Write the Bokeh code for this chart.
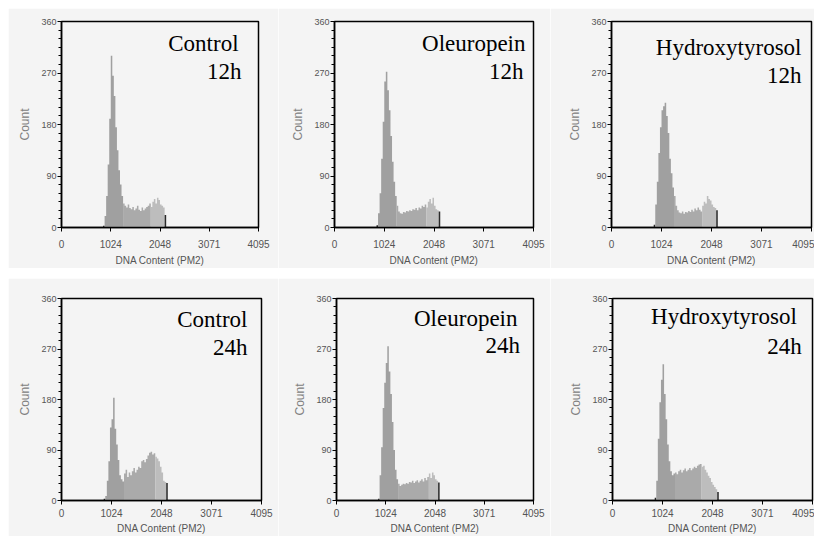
from bokeh.plotting import figure
from bokeh.models import Range1d, FixedTicker, Label, Spacer
from bokeh.layouts import column, row
from bokeh.embed import file_html
from bokeh.resources import INLINE

# ---------------- data ----------------
treatments = ["Control", "Oleuropein", "Hydroxytyrosol"]
times = ["12h", "24h"]
x_ticks = [0, 1024, 2048, 3071, 4095]
y_ticks = [0, 90, 180, 270, 360]
channel_start = 864
channel_width = 32

counts_control_12h = [3, 20, 55, 110, 190, 300, 265, 230, 175, 135, 100, 75, 55, 42, 38,
                      35, 40, 34, 32, 36, 30, 33, 38, 31, 29, 35, 30, 33, 36, 38,
                      42, 36, 45, 50, 42, 52, 48, 40, 38, 35, 22, 0]
counts_oleuropein_12h = [4, 25, 60, 120, 185, 255, 272, 240, 205, 160, 115, 80, 55, 38, 28,
                         25, 24, 27, 26, 29, 28, 30, 29, 32, 31, 34, 30, 35, 33, 38,
                         36, 40, 35, 45, 50, 42, 52, 38, 32, 30, 28, 0]
counts_hydroxytyrosol_12h = [5, 40, 80, 130, 175, 205, 212, 218, 195, 165, 120, 95, 70, 55, 38,
                             30, 26, 25, 28, 24, 27, 26, 29, 27, 31, 28, 33, 30, 35, 31,
                             28, 38, 45, 42, 55, 50, 47, 40, 36, 34, 30, 0]
counts_control_24h = [3, 8, 35, 70, 130, 145, 183, 128, 100, 72, 45, 38, 34, 48, 55,
                      42, 50, 45, 52, 58, 50, 55, 60, 58, 70, 72, 68, 74, 80, 85,
                      87, 82, 84, 78, 75, 70, 60, 50, 35, 33, 31, 0]
counts_oleuropein_24h = [3, 45, 95, 165, 210, 245, 275, 230, 190, 140, 90, 55, 38, 30, 26,
                         28, 30, 29, 31, 30, 33, 32, 35, 31, 34, 36, 32, 35, 38, 34,
                         40, 36, 42, 48, 40, 50, 45, 38, 35, 32, 0, 0]
counts_hydroxytyrosol_24h = [5, 35, 110, 175, 215, 243, 190, 145, 100, 70, 52, 45, 48, 50, 47,
                             52, 55, 50, 54, 57, 52, 55, 58, 54, 57, 60, 58, 62, 64, 65,
                             60, 62, 55, 50, 44, 40, 33, 28, 24, 20, 15, 0]

all_counts = [
    [counts_control_12h, counts_oleuropein_12h, counts_hydroxytyrosol_12h],
    [counts_control_24h, counts_oleuropein_24h, counts_hydroxytyrosol_24h],
]

# ---------------- layout / style ----------------
BG = "#f4f4f4"
G1_COLOR = "#a0a0a0"
S_COLOR = "#aaaaaa"
G2_COLOR = "#bdbdbd"
EDGE_COLOR = "#2a2a2a"
g1_end = 1280
g2_start = [[1856, 1888, 1856], [1920, 1920, 1824]]

col_widths = [[270, 272, 264], [270, 272, 264]]
border_left = [[53, 56, 61], [53, 58, 62]]
frame_w = [[197, 199, 200], [200, 197, 200]]
row_border_top = [13, 20]
row_frame_h = [206, 208]
row_border_bottom = [41, 30]
row_tick_standoff = [8, 4]
row_label_standoff = [4, 3]

# label positions (data units): (name x, name y, time x, time y)
label_pos = [
    [(3680, 300, 3740, 250), (3930, 299, 3890, 250), (3890, 293, 3890, 243)],
    [(3808, 300, 3808, 251), (3762, 302, 3812, 254), (3773, 306, 3876, 252)],
]

minor_y = [v for v in range(0, 361, 15) if v % 90 != 0]


def phase_color(i, lo, first, last, r, c):
    if i == first or i == last:
        return EDGE_COLOR
    if lo < g1_end:
        return G1_COLOR
    if lo < g2_start[r][c]:
        return S_COLOR
    return G2_COLOR


def make_panel(r, c):
    counts = all_counts[r][c]
    bl = border_left[r][c]
    fw = frame_w[r][c]
    w = col_widths[r][c]
    br = w - bl - fw
    h = row_border_top[r] + row_frame_h[r] + row_border_bottom[r]
    p = figure(width=w, height=h, output_backend="svg", toolbar_location=None,
               x_range=Range1d(0, 4095), y_range=Range1d(0, 360),
               min_border_left=bl, min_border_right=br,
               min_border_top=row_border_top[r], min_border_bottom=row_border_bottom[r])
    p.background_fill_color = BG
    p.border_fill_color = BG
    p.outline_line_color = "black"
    p.outline_line_width = 1.5
    p.xgrid.visible = False
    p.ygrid.visible = False

    nonzero = [i for i, v in enumerate(counts) if v > 0]
    first, last = nonzero[0], nonzero[-1]
    # group contiguous bins of the same phase colour into step areas
    segments = []
    for i in nonzero:
        lo = channel_start + i * channel_width
        col = phase_color(i, lo, first, last, r, c)
        if segments and segments[-1][0] == col:
            segments[-1][1].append(lo)
            segments[-1][2].append(counts[i])
        else:
            segments.append([col, [lo], [counts[i]]])
    for col, xs, ys in segments:
        xs = xs + [xs[-1] + channel_width]
        ys = ys + [ys[-1]]
        p.varea_step(x=xs, y1=[0] * len(xs), y2=ys, step_mode="after",
                     fill_color=col)

    p.xaxis.ticker = FixedTicker(ticks=x_ticks)
    p.yaxis.ticker = FixedTicker(ticks=y_ticks, minor_ticks=minor_y)
    for ax in (p.xaxis, p.yaxis):
        ax.axis_line_color = "black"
        ax.axis_line_width = 1.5
        ax.major_tick_line_color = "black"
        ax.major_tick_out = 4
        ax.major_tick_in = 0
        ax.major_label_text_font = "Liberation Sans"
        ax.major_label_text_color = "#555555"
        ax.axis_label_text_font = "Liberation Sans"
        ax.axis_label_text_color = "#555555"
        ax.axis_label_text_font_style = "normal"
    p.xaxis.minor_tick_line_color = None
    p.yaxis.minor_tick_line_color = "black"
    p.yaxis.minor_tick_out = 3
    p.yaxis.minor_tick_in = 0
    p.xaxis.major_label_text_font_size = "10px"
    p.yaxis.major_label_text_font_size = "9px"
    p.xaxis.major_label_standoff = row_tick_standoff[r]
    p.yaxis.major_label_standoff = 1
    p.xaxis.axis_label = "DNA Content (PM2)"
    p.yaxis.axis_label = "Count"
    p.xaxis.axis_label_text_font_size = "10px"
    p.yaxis.axis_label_text_font_size = "12px"
    p.xaxis.axis_label_standoff = row_label_standoff[r]
    p.yaxis.axis_label_standoff = 6
    p.yaxis.axis_label_text_color = "#808080"

    nx, ny, tx, ty = label_pos[r][c]
    p.add_layout(Label(x=nx, y=ny, text=treatments[c], text_align="right",
                       text_font="Liberation Serif", text_font_size="23px",
                       text_color="black"))
    p.add_layout(Label(x=tx, y=ty, text=times[r], text_align="right",
                       text_font="Liberation Serif", text_font_size="23px",
                       text_color="black"))
    return p


rows = []
for r in range(2):
    rows.append(row([Spacer(width=8, height=10)] + [make_panel(r, c) for c in range(3)],
                    spacing=0))

layout = column(Spacer(width=800, height=8), rows[0], Spacer(width=800, height=10), rows[1],
                spacing=0)

open("out.html", "w").write(file_html(layout, INLINE))
